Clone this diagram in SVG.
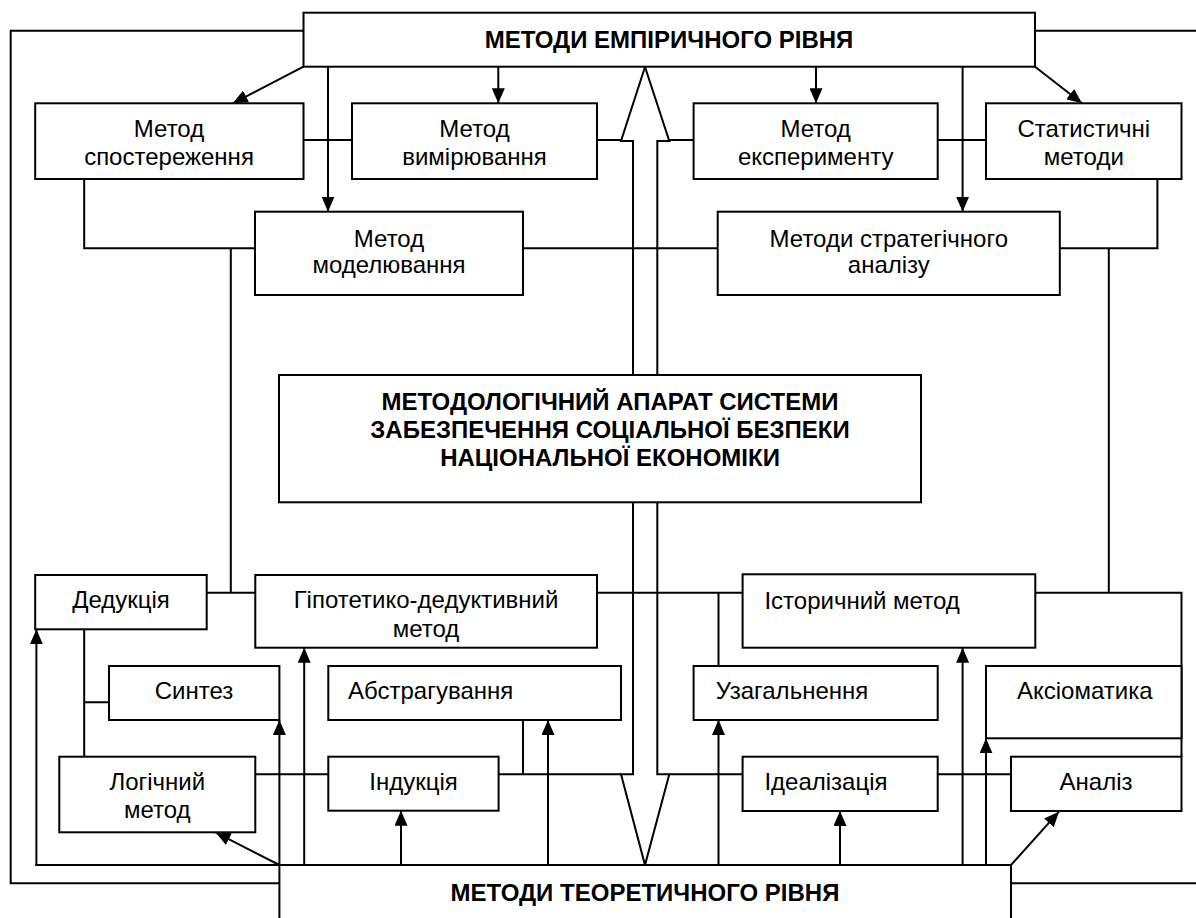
<svg xmlns="http://www.w3.org/2000/svg" width="1196" height="918" viewBox="0 0 1196 918">
<defs>
<marker id="ah" markerUnits="userSpaceOnUse" markerWidth="15" markerHeight="13" refX="15" refY="6.5" orient="auto">
<path d="M0,0 L15,6.5 L0,13 z" fill="#000"/>
</marker>
<style>
rect{fill:#fff;stroke:#000;stroke-width:2}
text{font-family:"Liberation Sans",Arial,sans-serif;font-size:24px;fill:#000}
.b{font-weight:bold}
.c{text-anchor:middle}
#connectors path, #connectors polyline, #connectors line{fill:none;stroke:#000;stroke-width:2}
.a{marker-end:url(#ah)}
</style>
</defs>
<rect x="0" y="0" width="1196" height="918" style="fill:#fff;stroke:none"/>
<g id="connectors">
<polyline points="303.5,30.7 10.7,30.7 10.7,883.3 279.4,883.3"/>
<line x1="1035" y1="30.7" x2="1196" y2="30.7"/>
<line x1="1011" y1="883.3" x2="1196" y2="883.3"/>
<line class="a" x1="303.5" y1="66.7" x2="232.7" y2="103.3"/>
<line class="a" x1="328" y1="66.7" x2="328" y2="211.7"/>
<line class="a" x1="498.3" y1="66.7" x2="498.3" y2="103.3"/>
<line class="a" x1="816" y1="66.7" x2="816" y2="103.3"/>
<line class="a" x1="962.6" y1="66.7" x2="962.6" y2="211.7"/>
<line class="a" x1="1035" y1="66.7" x2="1082" y2="103.3"/>
<path d="M303.5,140 H352 M597,140 H621 M669.3,140 H693.6 M937.7,140 H986"/>
<polyline points="84.2,175 84.2,248.3 255,248.3"/>
<line x1="230.8" y1="248.3" x2="230.8" y2="592.7"/>
<line x1="523" y1="248.3" x2="717.7" y2="248.3"/>
<polyline points="1157.4,175 1157.4,248.3 1059.8,248.3"/>
<line x1="1108.8" y1="248.3" x2="1108.8" y2="592.7"/>
<path d="M206.7,592.7 H255.3 M597,592.7 H742.6"/>
<polyline points="1035.3,592.7 1181.5,592.7 1181.5,756.7"/>
<line x1="718.5" y1="592.7" x2="718.5" y2="666"/>
<path d="M84.2,629.3 V756.7 M84.2,702.3 H109"/>
<path d="M255.3,774.3 H328.3 M498.6,774.3 H621 M669.3,774.3 H742.6 M937.7,774.3 H1011"/>
<line x1="523" y1="720" x2="523" y2="774.3"/>
<line x1="35.2" y1="865" x2="279.4" y2="865"/>
<polyline points="633,375 633,141 621,141 645,67 669.3,141 657.3,141 657.3,375"/>
<polyline points="633,502.3 633,774.3 621,774.3 645,865 669.3,774.3 657.3,774.3 657.3,502.3"/>
<line class="a" x1="36.4" y1="865" x2="36.4" y2="629.3"/>
<line class="a" x1="279.4" y1="865" x2="279.4" y2="720"/>
<line class="a" x1="304.2" y1="865" x2="304.2" y2="647.7"/>
<line class="a" x1="401" y1="865" x2="401" y2="810.7"/>
<line class="a" x1="548" y1="865" x2="548" y2="720"/>
<line class="a" x1="718.5" y1="865" x2="718.5" y2="720"/>
<line class="a" x1="840" y1="865" x2="840" y2="811"/>
<line class="a" x1="962.6" y1="865" x2="962.6" y2="647.7"/>
<line class="a" x1="986" y1="865" x2="986" y2="738.3"/>
<line class="a" x1="279.4" y1="865" x2="215.5" y2="832.3"/>
<line class="a" x1="1011" y1="865" x2="1059" y2="811.7"/>
</g>
<g id="empirical">
<rect x="303.5" y="12.7" width="731.5" height="54"/>
<text class="b c" x="669" y="48">МЕТОДИ ЕМПІРИЧНОГО РІВНЯ</text>
</g>
<g id="sposterezhennia">
<rect x="35.2" y="103.3" width="268.3" height="75.7"/>
<text class="c" x="169" y="137">Метод</text>
<text class="c" x="169" y="164.5">спостереження</text>
</g>
<g id="vymiriuvannia">
<rect x="352" y="103.3" width="245" height="75.7"/>
<text class="c" x="474.5" y="137">Метод</text>
<text class="c" x="474.5" y="164.5">вимірювання</text>
</g>
<g id="eksperyment">
<rect x="693.6" y="103.3" width="244.1" height="75.7"/>
<text class="c" x="815.7" y="137">Метод</text>
<text class="c" x="815.7" y="164.5">експерименту</text>
</g>
<g id="statystychni">
<rect x="986" y="103.3" width="195.5" height="75.7"/>
<text class="c" x="1083.8" y="137">Статистичні</text>
<text class="c" x="1083.8" y="164.5">методи</text>
</g>
<g id="modeliuvannia">
<rect x="255" y="211.7" width="268" height="83.3"/>
<text class="c" x="389" y="246.7">Метод</text>
<text class="c" x="389" y="273">моделювання</text>
</g>
<g id="stratehichnyi">
<rect x="717.7" y="211.7" width="342.1" height="83.3"/>
<text class="c" x="888.8" y="246.7">Методи стратегічного</text>
<text class="c" x="888.8" y="273">аналізу</text>
</g>
<g id="aparat">
<rect x="279" y="375" width="642" height="127.3"/>
<text class="b c" x="610" y="410">МЕТОДОЛОГІЧНИЙ АПАРАТ СИСТЕМИ</text>
<text class="b c" x="610" y="438">ЗАБЕЗПЕЧЕННЯ СОЦІАЛЬНОЇ БЕЗПЕКИ</text>
<text class="b c" x="610" y="465.7">НАЦІОНАЛЬНОЇ ЕКОНОМІКИ</text>
</g>
<g id="dedukciia">
<rect x="35.2" y="575" width="171.5" height="54.3"/>
<text class="c" x="121" y="608.3">Дедукція</text>
</g>
<g id="hipotetyko">
<rect x="255.3" y="575" width="341.7" height="72.7"/>
<text class="c" x="426" y="608.3">Гіпотетико-дедуктивний</text>
<text class="c" x="426" y="636.7">метод</text>
</g>
<g id="istorychnyi">
<rect x="742.6" y="574.3" width="292.7" height="73.4"/>
<text x="764.4" y="609">Історичний метод</text>
</g>
<g id="syntez">
<rect x="109" y="666" width="170.4" height="54"/>
<text class="c" x="194" y="699.3">Синтез</text>
</g>
<g id="abstrahuvannia">
<rect x="328.3" y="666" width="292.7" height="54"/>
<text x="348" y="699.3">Абстрагування</text>
</g>
<g id="uzahalnennia">
<rect x="693.6" y="666" width="244.1" height="54"/>
<text x="715.8" y="699.3">Узагальнення</text>
</g>
<g id="aksiomatyka">
<rect x="986" y="666" width="195.5" height="72.3"/>
<text x="1017" y="699.3">Аксіоматика</text>
</g>
<g id="lohichnyi">
<rect x="59.3" y="756.7" width="196" height="75.6"/>
<text class="c" x="157.3" y="790">Логічний</text>
<text class="c" x="157.3" y="818.3">метод</text>
</g>
<g id="indukciia">
<rect x="328.3" y="756.7" width="170.3" height="54"/>
<text class="c" x="413.5" y="790">Індукція</text>
</g>
<g id="idealizaciia">
<rect x="742.6" y="756.7" width="195.1" height="54.3"/>
<text x="764.4" y="790">Ідеалізація</text>
</g>
<g id="analiz">
<rect x="1011" y="756.7" width="170.5" height="54.3"/>
<text class="c" x="1096" y="790">Аналіз</text>
</g>
<g id="teoretychnyi">
<rect x="279.4" y="865" width="731.6" height="80"/>
<text class="b c" x="645" y="901">МЕТОДИ ТЕОРЕТИЧНОГО РІВНЯ</text>
</g>
</svg>
